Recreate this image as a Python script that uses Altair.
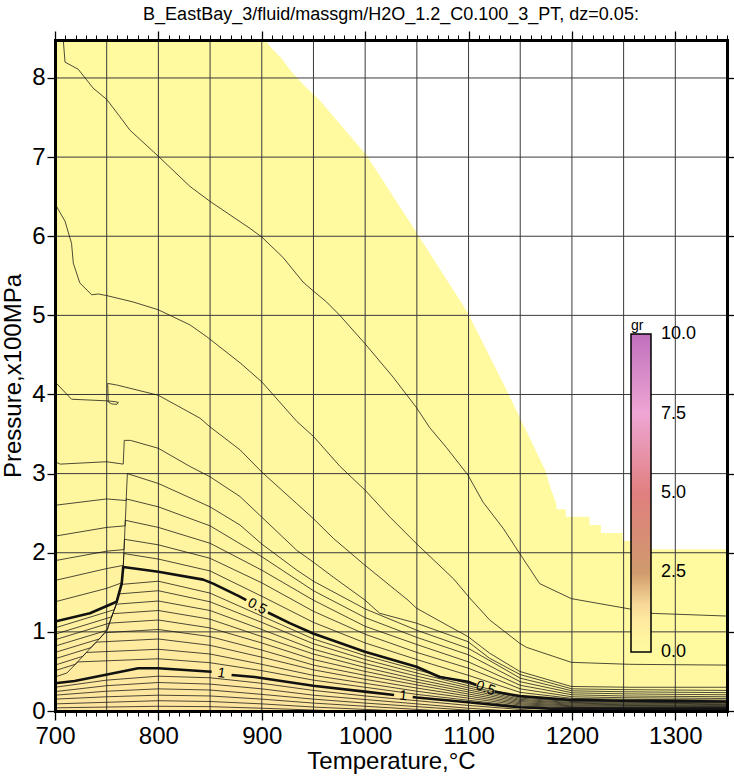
import altair as alt
import pandas as pd

FONT = "Liberation Sans"
TITLE = "B_EastBay_3/fluid/massgm/H2O_1.2_C0.100_3_PT, dz=0.05:"
X_TITLE = "Temperature,\u00b0C"
Y_TITLE = "Pressure,x100MPa"

T_RANGE = [700, 1350]
P_RANGE = [0, 8.48]
X_MAJOR = [700, 800, 900, 1000, 1100, 1200, 1300]
X_MINOR = list(range(700, 1351, 10))
Y_MAJOR = [0, 1, 2, 3, 4, 5, 6, 7, 8]
GRID_T = [750, 800, 850, 900, 950, 1000, 1050, 1100, 1150, 1200, 1250, 1300]
GRID_P = [1, 2, 3, 4, 5, 6, 7, 8]

# colour bar (gr)
CBAR_STOPS = [-0.0005, 1.3, 2.5, 5, 7.5, 10.0005]
CBAR_COLORS = ["#fffaa0", "#ffe4a0", "#cf9a6c", "#e07f7f", "#eea6d4", "#c070bc"]
CBAR_VALUES = [0, 2.5, 5, 7.5, 10]

# upper limit of the computed field (white above)
BOUNDARY = [(700, 8.48), (903, 8.48), (910, 8.37), (919, 8.25), (930, 8.06), (943, 7.88),
            (956, 7.72), (1001, 7.03), (1050, 6.04), (1099, 5.04), (1137, 4.05), (1174, 3.05),
            (1180, 2.79), (1185, 2.62), (1185.1, 2.55), (1194, 2.55), (1194.1, 2.456),
            (1217, 2.456), (1217.1, 2.35), (1228, 2.35), (1228.1, 2.25), (1249, 2.25),
            (1249.1, 2.15), (1262, 2.15), (1262.1, 2.045), (1350, 2.045)]

# contour lines (T, P)
C005 = [(708, 8.48), (709.7, 8.20), (722.5, 8.11), (737, 7.87), (750, 7.73), (762.8, 7.51),
        (772.5, 7.34), (800, 7.01), (830.5, 6.63), (850, 6.44), (888.5, 6.10), (900, 5.99),
        (920.7, 5.73), (940, 5.42), (949.7, 5.31), (962.6, 5.17), (975.5, 5.0), (1000, 4.64),
        (1027, 4.22), (1049.3, 3.84), (1062.5, 3.58), (1078.6, 3.33), (1099.5, 2.98),
        (1114, 2.64), (1133.4, 2.31), (1149.5, 1.99), (1168.8, 1.61), (1199.4, 1.42),
        (1255.8, 1.29), (1275, 1.235), (1350, 1.20)]
C010 = [(700, 6.41), (709.7, 6.19), (716, 5.91), (717.7, 5.66), (724, 5.41), (735.5, 5.26),
        (741.9, 5.27), (750, 5.25), (775.4, 5.17), (800, 5.07), (830.5, 4.88), (846.8, 4.73),
        (879, 4.40), (900, 4.16), (933.9, 3.66), (950, 3.47), (975.8, 3.09), (1000, 2.79),
        (1024, 2.45), (1050, 2.11), (1085.5, 1.67), (1101, 1.43), (1120.5, 1.15),
        (1149.5, 0.856), (1156, 0.805), (1199.4, 0.615), (1255.8, 0.59), (1350, 0.58)]
C015 = [(700, 4.16), (716, 3.94), (750, 3.92), (758, 3.91), (761.3, 3.90), (760, 3.876),
        (755, 3.88), (751.5, 3.905), (751, 4.14), (759.7, 4.12), (800, 3.99), (840.3, 3.70),
        (850, 3.59), (879, 3.30), (900, 3.02), (933.9, 2.62), (950, 2.43), (969.4, 2.18),
        (1000, 1.84), (1041.5, 1.40), (1049.6, 1.30), (1081.8, 1.066), (1099.5, 0.94),
        (1120.5, 0.73), (1149.5, 0.50), (1199.4, 0.31), (1256, 0.30), (1350, 0.30)]
C020 = [(700, 3.15), (705, 3.12), (750, 3.15), (766, 3.12), (767, 3.42), (773, 3.42),
        (800, 3.32), (830.6, 3.09), (850, 2.96), (879, 2.71), (900, 2.45), (933.9, 2.03),
        (950, 1.88), (969.4, 1.69), (1000, 1.40), (1014, 1.235), (1049.6, 1.11),
        (1099.5, 0.876), (1120.5, 0.665), (1150, 0.46), (1200, 0.28), (1250, 0.27),
        (1300, 0.265), (1350, 0.26)]
C025 = [(700, 2.60), (750, 2.68), (768.8, 2.66), (770, 3.0), (800, 2.875), (850, 2.58),
        (879, 2.35), (900, 2.11), (933.9, 1.78), (950, 1.64), (1000, 1.29), (1050, 1.02),
        (1100, 0.79), (1150, 0.415), (1200, 0.255), (1250, 0.243), (1300, 0.237), (1350, 0.232)]
C030 = [(700, 2.21), (750, 2.32), (767.8, 2.34), (769, 2.68), (800, 2.58), (850, 2.34),
        (900, 1.95), (950, 1.52), (1000, 1.18), (1050, 0.93), (1100, 0.71), (1150, 0.37),
        (1200, 0.23), (1250, 0.217), (1300, 0.21), (1350, 0.205)]
C035 = [(700, 1.90), (750, 2.02), (766.8, 2.04), (768, 2.41), (800, 2.32), (850, 2.12),
        (900, 1.78), (950, 1.40), (1000, 1.07), (1050, 0.84), (1100, 0.62), (1150, 0.325),
        (1200, 0.205), (1250, 0.19), (1300, 0.185), (1350, 0.18)]
C040 = [(700, 1.65), (750, 1.80), (766.1, 1.84), (767.2, 2.17), (800, 2.10), (850, 1.93),
        (900, 1.62), (950, 1.26), (1000, 0.97), (1050, 0.74), (1100, 0.54), (1150, 0.28),
        (1200, 0.18), (1250, 0.168), (1300, 0.163), (1350, 0.158)]
C045 = [(700, 1.38), (750, 1.55), (764.6, 1.62), (766, 1.82), (766.6, 1.99), (800, 1.92),
        (850, 1.77), (900, 1.45), (950, 1.12), (1000, 0.86), (1050, 0.65), (1100, 0.45),
        (1150, 0.235), (1200, 0.16), (1250, 0.148), (1300, 0.143), (1350, 0.138)]
C050_A = [(700, 1.13), (733.8, 1.235), (759.6, 1.38), (764.5, 1.61), (766, 1.82), (800, 1.76),
          (843.4, 1.66), (853, 1.61), (878.8, 1.445), (885, 1.40)]
C050_B = [(906, 1.245), (927, 1.11), (949.7, 0.98), (999.7, 0.75), (1049.6, 0.56), (1072, 0.43),
          (1099.5, 0.37), (1107.6, 0.33)]
C050_C = [(1125.3, 0.244), (1149.5, 0.19), (1178.5, 0.16), (1200, 0.14), (1250, 0.13),
          (1300, 0.125), (1350, 0.12)]
C055 = [(700, 1.05), (757.3, 1.28), (759.6, 1.36), (764.3, 1.60), (800, 1.64), (850, 1.49),
        (900, 1.20), (950, 0.91), (1000, 0.70), (1050, 0.52), (1100, 0.344), (1150, 0.176),
        (1200, 0.129), (1250, 0.12), (1300, 0.115), (1350, 0.11)]
C060 = [(700, 0.97), (754.8, 1.19), (759.6, 1.36), (762, 1.48), (800, 1.52), (850, 1.38),
        (900, 1.12), (950, 0.85), (1000, 0.65), (1050, 0.48), (1100, 0.318), (1150, 0.162),
        (1200, 0.119), (1250, 0.11), (1300, 0.106), (1350, 0.10)]
C065 = [(700, 0.90), (752.5, 1.11), (759.3, 1.35), (800, 1.39), (850, 1.27), (900, 1.03),
        (950, 0.78), (1000, 0.60), (1050, 0.44), (1100, 0.292), (1150, 0.147), (1200, 0.108),
        (1250, 0.10), (1300, 0.096), (1350, 0.09)]
C070 = [(700, 0.82), (750.5, 1.02), (755.9, 1.23), (800, 1.27), (850, 1.16), (900, 0.94),
        (950, 0.72), (1000, 0.55), (1050, 0.40), (1100, 0.266), (1150, 0.133), (1200, 0.098),
        (1250, 0.09), (1300, 0.087), (1350, 0.08)]
C075 = [(700, 0.74), (742.8, 0.91), (750, 1.02), (752.5, 1.11), (800, 1.15), (850, 1.05),
        (900, 0.86), (950, 0.65), (1000, 0.50), (1050, 0.365), (1100, 0.24), (1150, 0.119),
        (1200, 0.087), (1250, 0.08), (1300, 0.077), (1350, 0.072)]
C080 = [(700, 0.66), (734.7, 0.80), (748.5, 0.99), (800, 1.03), (850, 0.94), (900, 0.77),
        (950, 0.58), (1000, 0.45), (1050, 0.33), (1100, 0.214), (1150, 0.104), (1200, 0.076),
        (1250, 0.07), (1300, 0.068), (1350, 0.064)]
C085 = [(700, 0.58), (726.7, 0.69), (739.8, 0.87), (800, 0.91), (850, 0.83), (900, 0.68),
        (950, 0.52), (1000, 0.40), (1050, 0.29), (1100, 0.188), (1150, 0.09), (1200, 0.066),
        (1250, 0.06), (1300, 0.058), (1350, 0.056)]
C090 = [(700, 0.51), (719.6, 0.59), (730.5, 0.74), (800, 0.78), (850, 0.72), (900, 0.59),
        (950, 0.45), (1000, 0.35), (1050, 0.25), (1100, 0.162), (1150, 0.076), (1200, 0.055),
        (1250, 0.05), (1300, 0.049), (1350, 0.048)]
C095 = [(700, 0.43), (711.5, 0.48), (721.9, 0.62), (800, 0.66), (850, 0.61), (900, 0.51),
        (950, 0.39), (1000, 0.30), (1050, 0.21), (1100, 0.136), (1150, 0.061), (1200, 0.045),
        (1250, 0.04), (1300, 0.04), (1350, 0.04)]
C100_A = [(700, 0.35), (719, 0.38), (748, 0.455), (780.5, 0.54), (800, 0.54), (851.5, 0.497)]
C100_B = [(870.8, 0.455), (893, 0.43), (949.7, 0.32), (999.7, 0.245), (1028, 0.203)]
C100_C = [(1046, 0.176), (1049.6, 0.17), (1099.5, 0.11), (1149.5, 0.047), (1178.5, 0.03),
          (1350, 0.03)]
C105 = [(700, 0.30), (750, 0.39), (800, 0.44), (850, 0.42), (900, 0.35), (950, 0.26),
        (1000, 0.19), (1050, 0.13), (1100, 0.07), (1150, 0.02), (1172, 0.0)]
C110 = [(700, 0.245), (750, 0.32), (800, 0.36), (850, 0.34), (900, 0.28), (950, 0.20),
        (1000, 0.145), (1050, 0.09), (1100, 0.035), (1140, 0.0)]
C115 = [(700, 0.20), (750, 0.25), (800, 0.28), (850, 0.265), (900, 0.21), (950, 0.15),
        (1000, 0.10), (1050, 0.055), (1100, 0.01), (1110, 0.0)]
C120 = [(700, 0.15), (750, 0.18), (800, 0.20), (850, 0.19), (900, 0.15), (950, 0.10),
        (1000, 0.06), (1050, 0.02), (1075, 0.0)]
C125 = [(700, 0.09), (750, 0.11), (800, 0.13), (850, 0.12), (900, 0.09), (950, 0.05),
        (1000, 0.02), (1035, 0.0)]
C130 = [(700, 0.04), (750, 0.05), (800, 0.06), (850, 0.055), (900, 0.035), (950, 0.012),
        (975, 0.0)]

CONTOURS = [
    (0.05, [C005]), (0.10, [C010]), (0.15, [C015]), (0.20, [C020]), (0.25, [C025]),
    (0.30, [C030]), (0.35, [C035]), (0.40, [C040]), (0.45, [C045]),
    (0.50, [C050_A, C050_B, C050_C]),
    (0.55, [C055]), (0.60, [C060]), (0.65, [C065]), (0.70, [C070]), (0.75, [C075]),
    (0.80, [C080]), (0.85, [C085]), (0.90, [C090]), (0.95, [C095]),
    (1.00, [C100_A, C100_B, C100_C]),
    (1.05, [C105]), (1.10, [C110]), (1.15, [C115]), (1.20, [C120]), (1.25, [C125]), (1.30, [C130]),
]
BOLD_LEVELS = [0.50, 1.00]

# contour annotations
LABEL_TEXT = ["0.5", "0.5", "1", "1"]
LABEL_T = [895.5, 1116.4, 861.0, 1037.0]
LABEL_P = [1.32, 0.287, 0.476, 0.19]
LABEL_ANGLE = [28, 20, 9, 6]

# ---------- build tables ----------
fill_rows = [{"level": 0.0, "lv": "0.00", "T": t, "P": p} for t, p in BOUNDARY]
line_rows = []
for level, segs in CONTOURS:
    weight = "bold" if level in BOLD_LEVELS else "thin"
    merged = []
    for s, seg in enumerate(segs):
        for i, (t, p) in enumerate(seg):
            line_rows.append({"key": f"{level:.2f}-{s}", "T": t, "P": p, "i": i, "w": weight})
        merged.extend(seg)
    last = None
    for t, p in merged:
        if last is None or t > last:
            fill_rows.append({"level": level, "lv": f"{level:.2f}", "T": t, "P": p})
            last = t

fill_df = pd.DataFrame(fill_rows)
line_df = pd.DataFrame(line_rows)
label_df = pd.DataFrame({"T": LABEL_T, "P": LABEL_P, "text": LABEL_TEXT, "angle": LABEL_ANGLE})
vgrid_df = pd.DataFrame({"T": GRID_T})
hgrid_df = pd.DataFrame({"P": GRID_P})

xs = alt.Scale(domain=T_RANGE, nice=False, zero=False)
ys = alt.Scale(domain=P_RANGE, nice=False, zero=False)
AX = dict(domainColor="black", domainWidth=3, domainCap="square", tickColor="black",
          grid=False, zindex=2, labelFont=FONT, titleFont=FONT, labelColor="black",
          titleColor="black")

fill = alt.Chart(fill_df).mark_area(clip=True).encode(
    x=alt.X("T:Q", scale=xs, axis=alt.Axis(
        orient="bottom", values=X_MAJOR, format="d", tickSize=9, tickWidth=1.3,
        labelFontSize=24, labelPadding=4, labelFlush=False, title=X_TITLE,
        titleFontSize=24, titleFontWeight="normal", titlePadding=1, **AX)),
    y=alt.Y("P:Q", stack=None, scale=ys, axis=alt.Axis(
        orient="left", values=Y_MAJOR, format="d", tickSize=8, tickWidth=1.3,
        labelFontSize=24, labelPadding=2, labelFlush=False, title=Y_TITLE,
        titleFontSize=24, titleFontWeight="normal", titlePadding=6, **AX)),
    fill=alt.Fill("level:Q", scale=alt.Scale(domain=CBAR_STOPS, range=CBAR_COLORS,
                                             interpolate="rgb"),
                  legend=alt.Legend(
                      orient="none", legendX=576, legendY=279, direction="vertical",
                      title="gr", titleFont=FONT, titleFontSize=14, titleFontWeight="normal",
                      titleColor="black", titlePadding=1, titleAnchor="start",
                      gradientLength=318, gradientThickness=20,
                      gradientStrokeColor="black", gradientStrokeWidth=1.5,
                      values=CBAR_VALUES, format=".1f", labelFont=FONT, labelFontSize=18,
                      labelColor="black", labelOffset=10, labelBaseline="middle",
                      labelOverlap=False, padding=0)),
    detail="lv:N",
)

vgrid = alt.Chart(vgrid_df).mark_rule(color="#3a3a3a", strokeWidth=1).encode(
    x=alt.X("T:Q", scale=xs, axis=alt.Axis(
        orient="top", values=X_MAJOR, tickSize=9, tickWidth=1.3, labels=False,
        title=None, **AX)))

hgrid = alt.Chart(hgrid_df).mark_rule(color="#3a3a3a", strokeWidth=1).encode(
    y=alt.Y("P:Q", scale=ys, axis=alt.Axis(
        orient="right", values=Y_MAJOR, tickSize=8, tickWidth=1.3, labels=False,
        title=None, **AX)))

lines = alt.Chart(line_df).mark_line(clip=True, color="#111111", strokeJoin="round").encode(
    x=alt.X("T:Q", scale=xs, axis=alt.Axis(
        orient="bottom", values=X_MINOR, tickSize=5, tickWidth=1, labels=False,
        title=None, **AX)),
    y=alt.Y("P:Q", scale=ys, axis=None),
    detail="key:N",
    order="i:Q",
    strokeWidth=alt.StrokeWidth("w:N", scale=alt.Scale(domain=["thin", "bold"],
                                                        range=[0.75, 2.6]), legend=None),
)

labels = alt.Chart(label_df).mark_text(font=FONT, fontSize=14, color="black").encode(
    x=alt.X("T:Q", scale=xs, axis=alt.Axis(
        orient="top", values=X_MINOR, tickSize=5, tickWidth=1, labels=False,
        title=None, **AX)),
    y=alt.Y("P:Q", scale=ys, axis=None),
    text="text:N",
    angle=alt.Angle("angle:Q", scale=None),
)

chart = (
    alt.layer(fill, vgrid, hgrid, lines, labels)
    .resolve_axis(x="independent", y="independent")
    .properties(
        width=672, height=671,
        title=alt.TitleParams(TITLE, font=FONT, fontSize=18, fontWeight="normal",
                              color="black", anchor="middle", offset=6),
        padding={"left": 55, "top": 40, "right": 7, "bottom": 65},
        autosize=alt.AutoSizeParams(type="none"),
    )
    .configure(font=FONT)
    .configure_view(stroke=None)
)

chart.save("out.html", embed_options={"renderer": "svg", "actions": False})
